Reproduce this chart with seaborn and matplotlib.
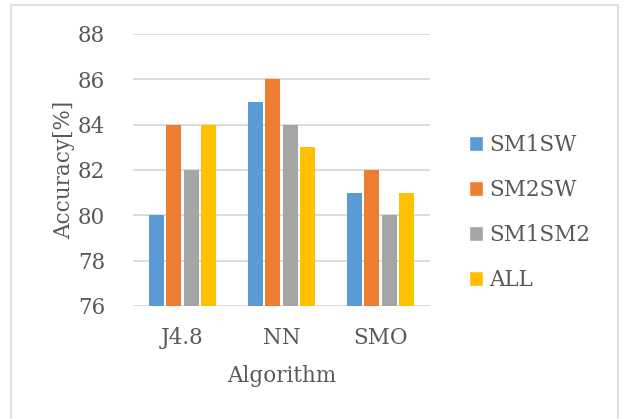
import numpy as np
import matplotlib
matplotlib.use("Agg")
import matplotlib.pyplot as plt
import pandas as pd
import seaborn as sns

# Data
algorithms = ["J4.8", "NN", "SMO"]
series = ["SM1SW", "SM2SW", "SM1SM2", "ALL"]
sm1sw = [80, 85, 81]
sm2sw = [84, 86, 82]
sm1sm2 = [82, 84, 80]
all_feat = [84, 83, 81]
colors = ["#5B9BD5", "#ED7D31", "#A5A5A5", "#FFC000"]

rows = []
for name, vals in zip(series, [sm1sw, sm2sw, sm1sm2, all_feat]):
    for alg, v in zip(algorithms, vals):
        rows.append({"Algorithm": alg, "Feature": name, "Accuracy": v})
df = pd.DataFrame(rows)

sns.set_style("white")
plt.rcParams['font.family'] = ['DejaVu Serif']
text_col = "#595959"
fs = 15.5

fig = plt.figure(figsize=(6.25, 4.19), dpi=100)
ax = fig.add_axes([0.213, 0.270, 0.475, 0.649])

sns.barplot(data=df, x="Algorithm", y="Accuracy", hue="Feature",
            palette=colors, saturation=1, width=0.7, gap=0.13, ax=ax, legend=True)

# bars start at 76 like the Excel chart
for p in ax.patches:
    h = p.get_height()
    if h > 0:
        p.set_y(76)
        p.set_height(h - 76)
        p.set_linewidth(0)

ax.set_ylim(76, 88)
ax.set_yticks(np.arange(76, 89, 2))
ax.set_xlim(-0.5, 2.5)
ax.yaxis.grid(True, color="#D9D9D9", linewidth=1.3)
ax.set_axisbelow(True)
for s in ax.spines.values():
    s.set_visible(False)
ax.tick_params(axis="both", length=0, labelsize=fs, colors=text_col)
ax.tick_params(axis="y", pad=20)
ax.tick_params(axis="x", pad=15)
ax.set_xlabel("Algorithm", fontsize=fs, color=text_col, labelpad=12)
ax.set_ylabel("Accuracy[%]", fontsize=fs, color=text_col, labelpad=2)

leg = ax.legend(loc="center left", bbox_to_anchor=(1.065, 0.342), frameon=False,
                fontsize=fs, labelspacing=1.07, handlelength=0.65,
                handleheight=0.7, handletextpad=0.3, borderpad=0.4)
for t in leg.get_texts():
    t.set_color(text_col)

# chart-area border
fig.patches.append(plt.Rectangle((11 / 625, -0.01), 607 / 625, 1 - 5 / 419 + 0.01,
                                 transform=fig.transFigure, fill=False,
                                 edgecolor="#D9D9D9", linewidth=1.2))

fig.savefig("out.png", dpi=100)
